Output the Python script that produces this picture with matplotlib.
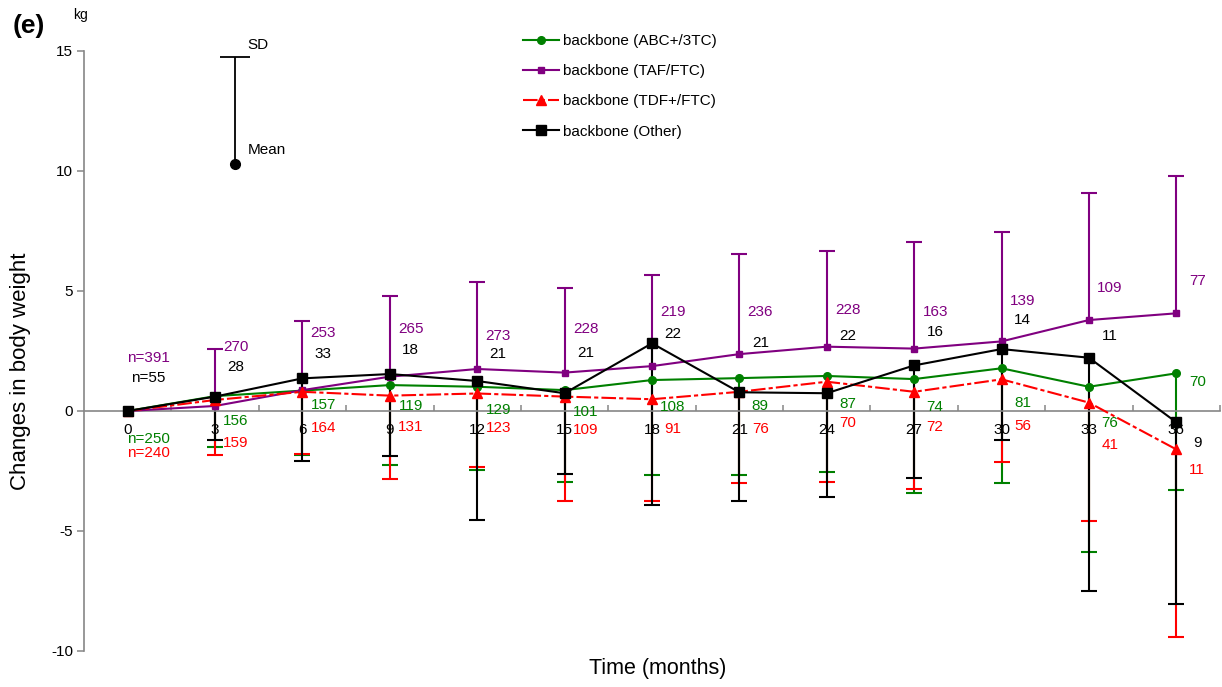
import numpy as np
import matplotlib
matplotlib.use("Agg")
import matplotlib.pyplot as plt
from matplotlib.ticker import FixedLocator

plt.rcParams['font.family'] = ['Liberation Sans', 'DejaVu Sans']

# ---- data -------------------------------------------------------------
months = [0, 3, 6, 9, 12, 15, 18, 21, 24, 27, 30, 33, 36]

abc_mean = [0, 0.62, 0.85, 1.08, 1.01, 0.87, 1.29, 1.37, 1.46, 1.33, 1.78, 1.01, 1.57]
abc_sd = [0, 2.11, 2.68, 3.33, 3.47, 3.81, 3.97, 4.05, 4.00, 4.73, 4.79, 6.90, 4.86]
abc_n = [250, 156, 157, 119, 129, 101, 108, 89, 87, 74, 81, 76, 70]

taf_mean = [0, 0.21, 0.87, 1.43, 1.75, 1.60, 1.87, 2.37, 2.68, 2.60, 2.90, 3.79, 4.07]
taf_sd = [0, 2.36, 2.89, 3.36, 3.64, 3.54, 3.78, 4.17, 3.99, 4.44, 4.56, 5.29, 5.72]
taf_n = [391, 270, 253, 265, 273, 228, 219, 236, 228, 163, 139, 109, 77]

tdf_mean = [0, 0.46, 0.80, 0.64, 0.73, 0.60, 0.49, 0.80, 1.22, 0.80, 1.32, 0.35, -1.60]
tdf_sd = [0, 2.29, 2.60, 3.49, 3.05, 4.35, 4.25, 3.81, 4.19, 4.05, 3.46, 4.93, 7.80]
tdf_n = [240, 159, 164, 131, 123, 109, 91, 76, 70, 72, 56, 41, 11]

oth_mean = [0, 0.60, 1.36, 1.54, 1.25, 0.74, 2.82, 0.78, 0.74, 1.90, 2.58, 2.22, -0.47]
oth_sd = [0, 1.80, 3.46, 3.41, 5.79, 3.38, 6.74, 4.54, 4.31, 4.71, 3.79, 9.71, 7.57]
oth_n = [55, 28, 33, 18, 21, 21, 22, 21, 22, 16, 14, 11, 9]

# heights (kg) at which the sample-size labels are written
abc_lab_y = [-1.17, -0.42, 0.25, 0.21, 0.04, -0.04, 0.17, 0.21, 0.29, 0.17, 0.33, -0.50, 1.21]
taf_lab_y = [2.21, 2.67, 3.25, 3.42, 3.13, 3.42, 4.13, 4.14, 4.21, 4.14, 4.58, 5.13, 5.42]
tdf_lab_y = [-1.75, -1.33, -0.71, -0.67, -0.71, -0.79, -0.75, -0.75, -0.50, -0.67, -0.63, -1.42, -2.46]
oth_lab_y = [1.39, 1.83, 2.38, 2.54, 2.38, 2.42, 3.21, 2.83, 3.13, 3.29, 3.79, 3.13, -1.33]

GREEN = '#008000'
PURPLE = '#800080'
RED = '#FF0000'
BLACK = '#000000'

series = [
    # label, mean, sd, n, label heights, colour, marker, ms, linestyle, sd direction
    ('backbone (ABC+/3TC)', abc_mean, abc_sd, abc_n, abc_lab_y, GREEN, 'o', 5.5, '-', 'down'),
    ('backbone (TAF/FTC)', taf_mean, taf_sd, taf_n, taf_lab_y, PURPLE, 's', 5, '-', 'up'),
    ('backbone (TDF+/FTC)', tdf_mean, tdf_sd, tdf_n, tdf_lab_y, RED, '^', 7, (0, (7, 1.5, 2, 1.5)), 'down'),
    ('backbone (Other)', oth_mean, oth_sd, oth_n, oth_lab_y, BLACK, 's', 7, '-', 'down'),
]

W, H = 1222, 687
fig = plt.figure(figsize=(W / 100, H / 100), dpi=100)
ax = fig.add_axes([84 / W, 36 / H, 1136 / W, 600 / H])
ax.set_xlim(-1.5, 37.5)
ax.set_ylim(-10, 15)

x = np.array(months, dtype=float)


def one_sided_errorbar(axis, xs, ys, err, direction, color, capsize, lw, z, **kw):
    """Error bar drawn only on one side of the mean, with a cap at the far end only."""
    err = np.asarray(err, dtype=float)
    zeros = np.zeros_like(err)
    yerr = [err, zeros] if direction == 'down' else [zeros, err]
    _, caps, _ = axis.errorbar(xs, ys, yerr=yerr, fmt='none', ecolor=color,
                               elinewidth=lw, capsize=capsize, capthick=lw,
                               zorder=z, **kw)
    # caps = (lower caps, upper caps); hide the one sitting on the mean
    if len(caps) == 2:
        (caps[1] if direction == 'down' else caps[0]).set_visible(False)


# error bars (one-sided), drawn beneath the lines
bar_order = [0, 2, 1, 3]
for z, i in enumerate(bar_order):
    name, mean, sd, n, laby, col, mk, ms, ls, direction = series[i]
    one_sided_errorbar(ax, x[1:], np.array(mean)[1:], np.array(sd)[1:],
                       direction, col, 6, 1.5, 2 + z * 0.1)

handles = []
for k, (name, mean, sd, n, laby, col, mk, ms, ls, direction) in enumerate(series):
    ln, = ax.plot(x, mean, color=col, lw=1.5, ls=ls, marker=mk, ms=ms,
                  mfc=col, mec=col, zorder=3 + k * 0.1, label=name)
    handles.append(ln)
    for j, (xm, cnt, ly) in enumerate(zip(x, n, laby)):
        txt = f'n={cnt}' if j == 0 else str(cnt)
        ax.text(xm + 0.72, ly, txt, color=col, fontsize=11,
                ha='center', va='center', zorder=5)

# mean / SD key
key_x, key_mean, key_sd = 3.67, 10.3, 4.45
one_sided_errorbar(ax, [key_x], [key_mean], [key_sd], 'up', 'black', 11, 1.3, 4,
                   clip_on=False)
ax.plot([key_x], [key_mean], 'o', color='black', ms=7, zorder=4)
ax.text(4.12, 15.25, 'SD', fontsize=11, ha='left', va='center')
ax.text(4.12, 10.88, 'Mean', fontsize=11, ha='left', va='center')

# axes styling
AXC = '#868686'
for sp in ('top', 'right'):
    ax.spines[sp].set_visible(False)
ax.spines['bottom'].set_position(('data', 0))
ax.spines['bottom'].set_color(AXC)
ax.spines['left'].set_color(AXC)
ax.spines['bottom'].set_linewidth(1.2)
ax.spines['left'].set_linewidth(1.2)

ax.set_xticks(months)
ax.set_xticklabels([str(m) for m in months])
ax.xaxis.set_minor_locator(FixedLocator(np.arange(1.5, 37.6, 3)))
ax.tick_params(axis='x', which='major', length=0, pad=9, labelsize=11, labelcolor='black')
ax.tick_params(axis='x', which='minor', direction='in', length=4, width=1.1, color=AXC)

ax.set_yticks([-10, -5, 0, 5, 10, 15])
ax.set_yticklabels(['-10', '-5', '0', '5', '10', '15'])
ax.tick_params(axis='y', direction='out', length=5, width=1.1, color=AXC,
               labelsize=11, labelcolor='black', pad=3)

ax.set_ylabel('Changes in body weight', fontsize=16)
ax.yaxis.set_label_coords(-0.047, 0.467)
ax.set_xlabel('Time (months)', fontsize=15.5)
ax.xaxis.set_label_coords(0.505, -0.012)

fig.text(29 / W, 1 - 26 / H, '(e)', fontsize=19, fontweight='bold', ha='center', va='center')
fig.text(80 / W, 1 - 15 / H, 'kg', fontsize=10, ha='center', va='center')

ax.legend(handles=handles, loc='upper left', bbox_to_anchor=(523 / W, 1 - 34 / H),
          bbox_transform=fig.transFigure, frameon=False, fontsize=11,
          handlelength=2.36, handletextpad=0.25, labelspacing=1.06,
          borderpad=0, borderaxespad=0)

fig.savefig('out.png', dpi=100, facecolor='white')
